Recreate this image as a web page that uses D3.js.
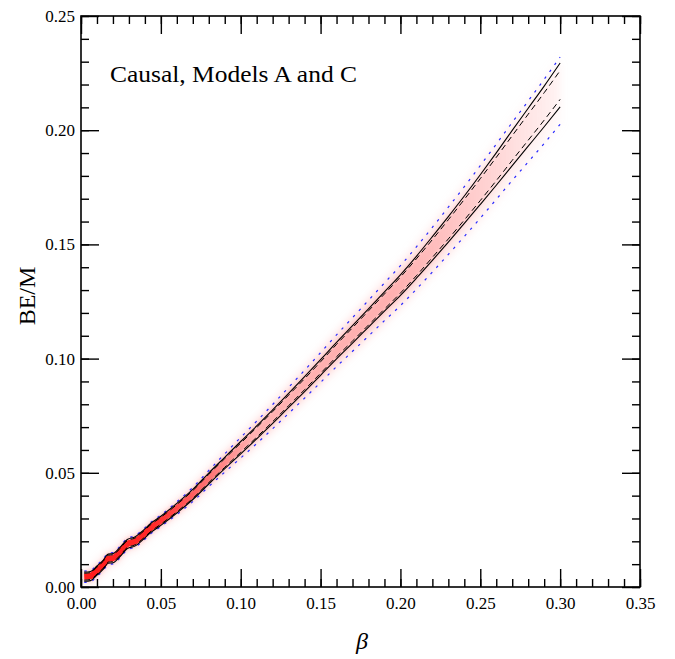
<!DOCTYPE html>
<html>
<head>
<meta charset="utf-8">
<script src="https://cdn.jsdelivr.net/npm/d3@7"></script>
<style>
  body { margin: 0; background: #fff; }
  svg text { font-family: "Liberation Serif", "Times New Roman", serif; fill: #000; }
</style>
</head>
<body>
<svg id="chart" width="675" height="659"></svg>
<script>
// beta grid shared by every curve
var beta = [0.002, 0.006, 0.010, 0.014, 0.017, 0.020, 0.024, 0.029, 0.034, 0.038, 0.044, 0.050,
  0.060, 0.070, 0.080, 0.090, 0.100, 0.110, 0.120, 0.130, 0.140, 0.150, 0.160, 0.170, 0.180,
  0.190, 0.200, 0.210, 0.220, 0.230, 0.240, 0.250, 0.260, 0.270, 0.280, 0.290, 0.300];

// centre of the sample cloud
var centre = [0.0045, 0.0048, 0.0072, 0.0098, 0.0124, 0.0126, 0.0150, 0.0188, 0.0200, 0.0222, 0.0260, 0.0290,
  0.0345, 0.0405, 0.0475, 0.0543, 0.0610, 0.0677, 0.0746, 0.0817, 0.0888, 0.0961, 0.1035, 0.1106, 0.1178,
  0.1250, 0.1322, 0.1400, 0.1482, 0.1566, 0.1652, 0.1740, 0.1830, 0.1922, 0.2013, 0.2104, 0.2198];

// solid black bounds
var solidUpper = [0.0065, 0.0068, 0.0092, 0.0118, 0.0144, 0.0146, 0.0170, 0.0208, 0.0220, 0.0242, 0.0280, 0.0310,
  0.0366, 0.0427, 0.0499, 0.0568, 0.0637, 0.0705, 0.0776, 0.0848, 0.0921, 0.0995, 0.1071, 0.1144, 0.1218,
  0.1292, 0.1367, 0.1448, 0.1534, 0.1622, 0.1712, 0.1805, 0.1901, 0.1999, 0.2096, 0.2193, 0.2294];
var solidLower = [0.0025, 0.0028, 0.0052, 0.0078, 0.0104, 0.0106, 0.0130, 0.0168, 0.0180, 0.0202, 0.0240, 0.0270,
  0.0324, 0.0383, 0.0451, 0.0518, 0.0583, 0.0649, 0.0716, 0.0786, 0.0855, 0.0927, 0.0999, 0.1068, 0.1138,
  0.1208, 0.1277, 0.1352, 0.1430, 0.1510, 0.1592, 0.1675, 0.1759, 0.1845, 0.1930, 0.2015, 0.2102];

// dashed black bounds
var dashUpper = [0.0060, 0.0063, 0.0087, 0.0113, 0.0139, 0.0141, 0.0165, 0.0203, 0.0215, 0.0237, 0.0275, 0.0305,
  0.0361, 0.0422, 0.0493, 0.0562, 0.0630, 0.0698, 0.0768, 0.0840, 0.0912, 0.0986, 0.1062, 0.1135, 0.1209,
  0.1283, 0.1357, 0.1437, 0.1521, 0.1608, 0.1697, 0.1788, 0.1881, 0.1976, 0.2070, 0.2164, 0.2261];
var dashLower = [0.0030, 0.0033, 0.0057, 0.0083, 0.0109, 0.0111, 0.0135, 0.0173, 0.0185, 0.0207, 0.0245, 0.0275,
  0.0329, 0.0388, 0.0457, 0.0524, 0.0590, 0.0656, 0.0724, 0.0794, 0.0864, 0.0936, 0.1008, 0.1077, 0.1147,
  0.1217, 0.1287, 0.1363, 0.1443, 0.1524, 0.1607, 0.1692, 0.1779, 0.1868, 0.1956, 0.2044, 0.2135];

// blue dash-dot bounds
var dotUpper = [0.0070, 0.0073, 0.0097, 0.0123, 0.0149, 0.0151, 0.0175, 0.0213, 0.0225, 0.0247, 0.0285, 0.0315,
  0.0373, 0.0436, 0.0510, 0.0583, 0.0655, 0.0726, 0.0799, 0.0874, 0.0949, 0.1026, 0.1104, 0.1179, 0.1255,
  0.1331, 0.1407, 0.1489, 0.1575, 0.1663, 0.1753, 0.1845, 0.1939, 0.2034, 0.2128, 0.2223, 0.2320];
var dotLower = [0.0020, 0.0023, 0.0047, 0.0073, 0.0099, 0.0101, 0.0125, 0.0163, 0.0175, 0.0197, 0.0235, 0.0265,
  0.0317, 0.0374, 0.0440, 0.0503, 0.0565, 0.0628, 0.0693, 0.0760, 0.0827, 0.0896, 0.0965, 0.1032, 0.1099,
  0.1166, 0.1232, 0.1304, 0.1379, 0.1456, 0.1535, 0.1615, 0.1697, 0.1780, 0.1861, 0.1942, 0.2026];

var xMajor = [0.00, 0.05, 0.10, 0.15, 0.20, 0.25, 0.30, 0.35];
var yMajor = [0.00, 0.05, 0.10, 0.15, 0.20, 0.25];

var margin = {top: 16, right: 35, bottom: 72, left: 81};
var width = 675 - margin.left - margin.right;
var height = 659 - margin.top - margin.bottom;

var svg = d3.select("#chart");
var defs = svg.append("defs");

defs.append("clipPath").attr("id", "plotclip")
  .append("rect").attr("width", width).attr("height", height);

defs.append("filter").attr("id", "blurWide")
  .attr("x", "-20%").attr("y", "-20%").attr("width", "140%").attr("height", "140%")
  .append("feGaussianBlur").attr("stdDeviation", 5);
defs.append("filter").attr("id", "blurNarrow")
  .attr("x", "-20%").attr("y", "-20%").attr("width", "140%").attr("height", "140%")
  .append("feGaussianBlur").attr("stdDeviation", 2);

var x = d3.scaleLinear().domain([0, 0.35]).range([0, width]);
var y = d3.scaleLinear().domain([0, 0.25]).range([height, 0]);

function fade(id, color, stops) {
  var g = defs.append("linearGradient").attr("id", id)
    .attr("gradientUnits", "userSpaceOnUse")
    .attr("x1", x(0)).attr("x2", x(0.3)).attr("y1", 0).attr("y2", 0);
  stops.forEach(function(s) {
    g.append("stop").attr("offset", s[0]).attr("stop-color", color).attr("stop-opacity", s[1]);
  });
}
fade("haloFade", "#ffcaca", [[0, 0.8], [0.6, 0.8], [0.82, 0.45], [1, 0.12]]);
fade("bandFade", "#ffacac", [[0, 0.95], [0.65, 0.9], [0.8, 0.5], [0.9, 0.25], [1, 0.06]]);
fade("coreFade", "#ff1a1a", [[0, 1], [0.15, 0.9], [0.27, 0.4], [0.36, 0]]);

var chart = svg.append("g")
  .attr("transform", "translate(" + margin.left + "," + margin.top + ")");

var plot = chart.append("g").attr("clip-path", "url(#plotclip)");

var pts = beta.map(function(b, i) {
  return {b: b, c: centre[i], su: solidUpper[i], sl: solidLower[i],
    du: dashUpper[i], dl: dashLower[i], bu: dotUpper[i], bl: dotLower[i]};
});

var halo = d3.area().x(function(d) { return x(d.b); })
  .y0(function(d) { return y(d.bl); }).y1(function(d) { return y(d.bu); })
  .curve(d3.curveMonotoneX);
var band = d3.area().x(function(d) { return x(d.b); })
  .y0(function(d) { return y(d.sl); }).y1(function(d) { return y(d.su); })
  .curve(d3.curveMonotoneX);

plot.append("path").datum(pts).attr("d", halo)
  .attr("fill", "url(#haloFade)").attr("filter", "url(#blurWide)");
plot.append("path").datum(pts).attr("d", band)
  .attr("fill", "url(#bandFade)").attr("filter", "url(#blurNarrow)");

function curveLine(key) {
  return d3.line().x(function(d) { return x(d.b); })
    .y(function(d) { return y(d[key]); })
    .curve(d3.curveMonotoneX);
}

plot.append("path").datum(pts).attr("d", curveLine("c"))
  .attr("fill", "none").attr("stroke", "url(#coreFade)").attr("stroke-width", 6);

plot.append("path").datum(pts).attr("d", curveLine("bu"))
  .attr("fill", "none").attr("stroke", "#2a2aff").attr("stroke-width", 1.2)
  .attr("stroke-dasharray", "2.5,6");
plot.append("path").datum(pts).attr("d", curveLine("bl"))
  .attr("fill", "none").attr("stroke", "#2a2aff").attr("stroke-width", 1.2)
  .attr("stroke-dasharray", "2.5,6");

plot.append("path").datum(pts).attr("d", curveLine("du"))
  .attr("fill", "none").attr("stroke", "#000").attr("stroke-width", 1)
  .attr("stroke-dasharray", "6,4");
plot.append("path").datum(pts).attr("d", curveLine("dl"))
  .attr("fill", "none").attr("stroke", "#000").attr("stroke-width", 1)
  .attr("stroke-dasharray", "6,4");

plot.append("path").datum(pts).attr("d", curveLine("su"))
  .attr("fill", "none").attr("stroke", "#000").attr("stroke-width", 1.1);
plot.append("path").datum(pts).attr("d", curveLine("sl"))
  .attr("fill", "none").attr("stroke", "#000").attr("stroke-width", 1.1);

// axes: major + minor ticks pointing inward on all four sides
var xMinor = d3.range(0, 0.3501, 0.01);
var yMinor = d3.range(0, 0.2501, 0.01);
var fmt = d3.format(".2f");

function styleAxis(g) {
  g.selectAll(".domain").remove();
  g.selectAll("line").attr("stroke", "#000").attr("stroke-width", 1.4);
  g.selectAll("text").style("font-size", "17px").style("font-family", "Liberation Serif, serif");
}

chart.append("g").attr("transform", "translate(0," + height + ")")
  .call(d3.axisBottom(x).tickValues(xMinor).tickSize(-8).tickFormat("")).call(styleAxis);
chart.append("g").attr("transform", "translate(0," + height + ")")
  .call(d3.axisBottom(x).tickValues(xMajor).tickSize(-18).tickPadding(10).tickFormat(fmt)).call(styleAxis);
chart.append("g")
  .call(d3.axisTop(x).tickValues(xMinor).tickSize(-8).tickFormat("")).call(styleAxis);
chart.append("g")
  .call(d3.axisTop(x).tickValues(xMajor).tickSize(-18).tickFormat("")).call(styleAxis);

chart.append("g")
  .call(d3.axisLeft(y).tickValues(yMinor).tickSize(-8).tickFormat("")).call(styleAxis);
chart.append("g")
  .call(d3.axisLeft(y).tickValues(yMajor).tickSize(-18).tickPadding(6).tickFormat(fmt)).call(styleAxis);
chart.append("g").attr("transform", "translate(" + width + ",0)")
  .call(d3.axisRight(y).tickValues(yMinor).tickSize(-8).tickFormat("")).call(styleAxis);
chart.append("g").attr("transform", "translate(" + width + ",0)")
  .call(d3.axisRight(y).tickValues(yMajor).tickSize(-18).tickFormat("")).call(styleAxis);

chart.append("rect")
  .attr("width", width).attr("height", height)
  .attr("fill", "none").attr("stroke", "#000").attr("stroke-width", 1.6);

chart.append("text")
  .attr("x", 29).attr("y", 66)
  .attr("textLength", 247).attr("lengthAdjust", "spacingAndGlyphs")
  .style("font-size", "23px")
  .text("Causal, Models A and C");

chart.append("text")
  .attr("transform", "translate(" + (35 - margin.left) + "," + (296 - margin.top) + ") rotate(-90)")
  .style("text-anchor", "middle")
  .style("font-size", "24px")
  .text("BE/M");

chart.append("text")
  .attr("x", 362 - margin.left).attr("y", 649 - margin.top)
  .style("text-anchor", "middle")
  .style("font-size", "24px")
  .style("font-style", "italic")
  .text("β");
</script>
</body>
</html>
